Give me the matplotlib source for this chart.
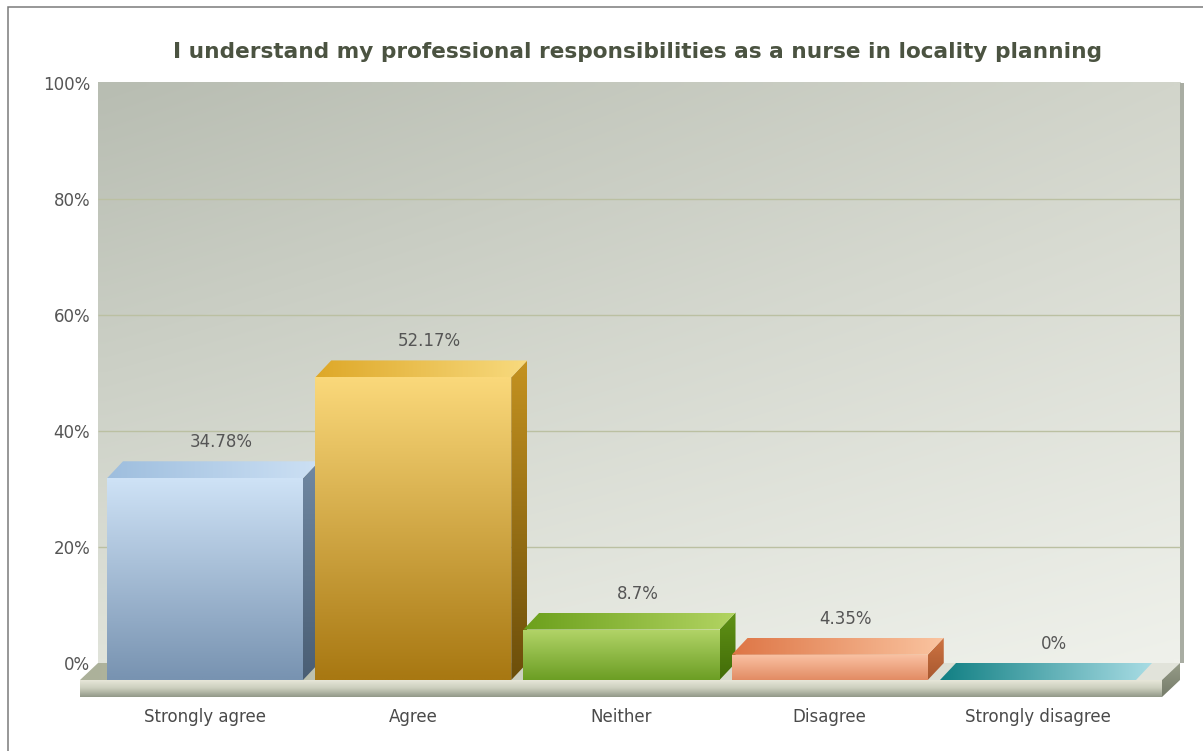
import numpy as np
import matplotlib.pyplot as plt
from matplotlib.patches import Polygon, Rectangle

# survey answers
categories = ['Strongly agree', 'Agree', 'Neither', 'Disagree', 'Strongly disagree']
values = [34.78, 52.17, 8.7, 4.35, 0]
value_labels = ['34.78%', '52.17%', '8.7%', '4.35%', '0%']
y_ticks = [0, 20, 40, 60, 80, 100]
y_tick_labels = ['0%', '20%', '40%', '60%', '80%', '100%']
title = 'I understand my professional responsibilities as a nurse in locality planning'

# face colours per bar: front (top->bottom), top (left->right), side (top->bottom)
front_cols = [[(206, 226, 246), (120, 147, 177)],
              [(250, 216, 122), (168, 120, 18)],
              [(178, 212, 104), (108, 158, 36)],
              [(250, 194, 164), (226, 140, 100)],
              [(60, 160, 165), (60, 160, 165)]]
top_cols = [[(158, 190, 222), (204, 224, 244)],
            [(222, 168, 40), (248, 218, 126)],
            [(108, 160, 28), (178, 212, 98)],
            [(222, 118, 70), (250, 196, 160)],
            [(18, 128, 132), (168, 220, 228)]]
side_cols = [[(112, 136, 162), (74, 94, 116)],
             [(196, 146, 32), (108, 78, 10)],
             [(96, 146, 22), (66, 108, 8)],
             [(206, 116, 66), (168, 88, 48)],
             [(40, 120, 125), (30, 100, 105)]]

W, H = 1203, 751
fig = plt.figure(figsize=(W / 100, H / 100), dpi=100)
ax = fig.add_axes([0, 0, 1, 1])

# back wall geometry (pixels) -> data scale
pitch = 208.25          # px per category
x_c0 = 223.0            # px of first category on the back wall
y_0 = 663.0             # px of 0% on the back wall
ppu = 5.8               # px per percent
wall_l, wall_r, wall_t = 98, 1180, 83

def dx(p):
    return p / pitch

def dy(p):
    return p / ppu

xlim = ((0 - x_c0) / pitch, (W - x_c0) / pitch)
ylim = ((y_0 - H) / ppu, y_0 / ppu)
wx0, wx1 = (wall_l - x_c0) / pitch, (wall_r - x_c0) / pitch

FX, FY = dx(18), dy(17)   # front plane shift
BX, BY = dx(16), dy(17)   # bar depth
hw = 0.4706               # half bar width


def shade(verts, colors, horizontal=False, z=2):
    poly = Polygon(verts, closed=True, facecolor='none', edgecolor='none', zorder=z)
    ax.add_patch(poly)
    xs, ys = zip(*verts)
    c = np.array(colors, dtype=float) / 255
    t = np.linspace(0, 1, 64)
    stops = np.linspace(0, 1, len(c))
    grad = np.stack([np.interp(t, stops, c[:, k]) for k in range(3)], axis=-1)
    img = grad[None, :, :] if horizontal else grad[:, None, :]
    im = ax.imshow(img, extent=(min(xs), max(xs), min(ys), max(ys)), origin='upper',
                   aspect='auto', interpolation='bilinear', zorder=z)
    im.set_clip_path(poly)


# back wall with a two-way gradient
corners = np.array([[(184, 189, 178), (210, 213, 203)],
                    [(224, 227, 218), (239, 241, 235)]], dtype=float) / 255
u = np.linspace(0, 1, 80)
v = np.linspace(0, 1, 80)[:, None, None]
top = corners[0, 0] + (corners[0, 1] - corners[0, 0]) * u[:, None]
bot = corners[1, 0] + (corners[1, 1] - corners[1, 0]) * u[:, None]
wall = top[None] * (1 - v) + bot[None] * v
ax.imshow(wall, extent=(wx0, wx1, 0, 100), origin='upper', aspect='auto',
          interpolation='bilinear', zorder=0)
ax.add_patch(Rectangle((wx1, 0), dx(4), 100, facecolor='#a9ada3', edgecolor='none', zorder=0))

for t in y_ticks[1:-1]:
    ax.hlines(t, wx0, wx1, colors='#bbc0a2', lw=1, zorder=1)
for t, lab in zip(y_ticks, y_tick_labels):
    ax.text(wx0 - dx(8), t - dy(2), lab, ha='right', va='center',
            fontsize=12, color='#555555', zorder=5)

# floor slab
slab = dy(17)
fl, fr = wx0 - FX, wx1 - FX
shade([(wx0, 0), (wx1, 0), (fr, -FY), (fl, -FY)],
      [(172, 177, 154), (214, 216, 204), (226, 228, 219)], horizontal=True, z=1)
shade([(fl, -FY), (fr, -FY), (fr, -FY - slab), (fl, -FY - slab)],
      [(234, 234, 220), (204, 207, 190), (146, 152, 136)], z=3)
shade([(fr, -FY), (wx1, 0), (wx1, -slab), (fr, -FY - slab)],
      [(150, 156, 136), (118, 124, 106)], z=3)

# 3D bars
for i, val in enumerate(values):
    x0, x1 = i - hw - FX, i + hw - FX
    yb, yt = -FY, val - FY
    if val > 0:
        shade([(x0, yb), (x1, yb), (x1, yt), (x0, yt)], front_cols[i], z=4)
        shade([(x1, yb), (x1, yt), (x1 + BX, yt + BY), (x1 + BX, yb + BY)], side_cols[i], z=4)
    shade([(x0, yt), (x1, yt), (x1 + BX, yt + BY), (x0 + BX, yt + BY)],
          top_cols[i], horizontal=True, z=4)
    ax.text(i - FX + BX, val + dy(19), value_labels[i], ha='center', va='center',
            fontsize=12, color='#555555', zorder=5)
    ax.text(i - FX, dy(663 - 717), categories[i], ha='center', va='center',
            fontsize=12, color='#4a4a4a', zorder=5)

ax.text((637.5 - x_c0) / pitch, dy(663 - 52), title, ha='center', va='center',
        fontsize=15.6, fontweight='bold', color='#4b5341', zorder=5)

ax.set_xlim(*xlim)
ax.set_ylim(*ylim)
ax.axis('off')

# outer frame (left and top edges)
fig.patches.append(Rectangle((7.5 / W, -0.1), 1.2, (H - 6.5) / H + 0.1,
                             transform=fig.transFigure, fill=False,
                             edgecolor='#7a7a7a', lw=1.1))

fig.savefig('out.png', dpi=100)
